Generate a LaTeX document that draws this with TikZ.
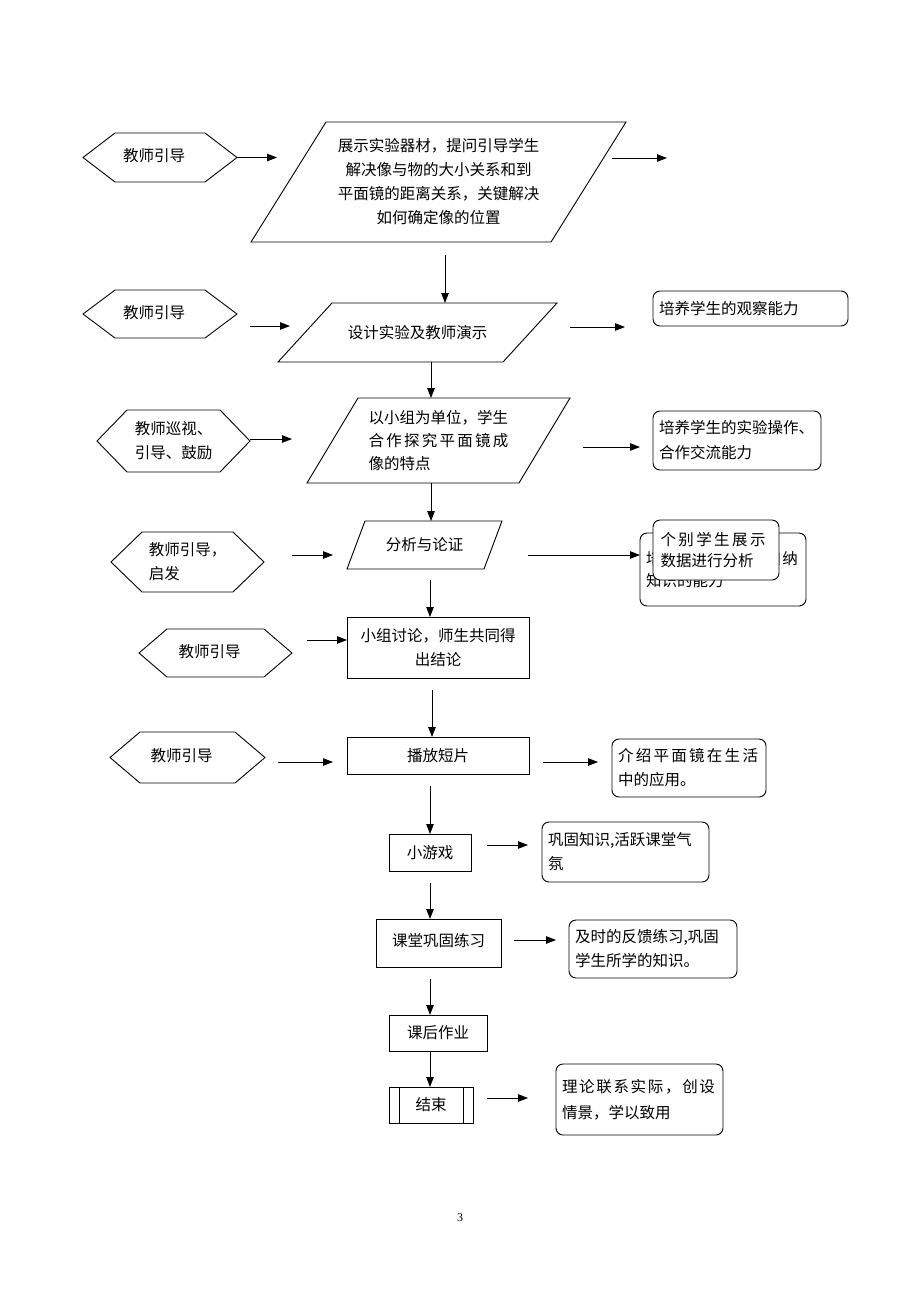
\documentclass[tikz,border=0pt]{standalone}
\usepackage{fontspec}
\newfontfamily\cjk{Noto Sans CJK SC}
\newfontfamily\pnum{Liberation Serif}
\usetikzlibrary{arrows.meta}
\newcommand\cjkfs{\cjk\fontsize{15.5}{24}\selectfont}
\newcommand\hexpath[2]{\draw[edge] (#1.west) -- ([xshift=#2pt]#1.north west) -- ([xshift=-#2pt]#1.north east) -- (#1.east) -- ([xshift=-#2pt]#1.south east) -- ([xshift=#2pt]#1.south west) -- cycle;}
\newcommand\parapath[2]{\draw[edge] (#1.south west) -- ([xshift=#2pt]#1.north west) -- (#1.north east) -- ([xshift=-#2pt]#1.south east) -- cycle;}
\newcommand\offtext[1]{\raisebox{5pt}{#1}\hspace{12pt}}
\begin{document}
\begin{tikzpicture}[x=1pt,y=-1pt,
  edge/.style={line width=0.9pt,line join=miter},
  arr/.style={line width=0.9pt,-{Triangle[length=10pt,width=7.5pt]}},
  base/.style={inner sep=0pt,outer sep=0pt,font=\cjkfs,text=black},
  shp/.style={base,align=center},
  box/.style={base,draw,line width=0.9pt,align=center},
  rbox/.style={base,draw,line width=0.9pt,rounded corners=7pt,inner xsep=6pt,align=left,fill=white}]
\fill[white] (0,0) rectangle (920,1302);
\useasboundingbox (0,0) rectangle (920,1302);

% ---- hexagons ----
\node[shp,minimum width=154pt,minimum height=49pt] (h1) at (160,157.5) {\offtext{教师引导}};
\hexpath{h1}{32}
\node[shp,minimum width=154pt,minimum height=48pt] (h2) at (160,314) {\offtext{教师引导}};
\hexpath{h2}{32}
\node[shp,minimum width=153pt,minimum height=62pt] (h3) at (173.5,441) {教师巡视、\\引导、鼓励};
\hexpath{h3}{30}
\node[shp,align=left,minimum width=153pt,minimum height=60pt] (h4) at (187.5,562) {教师引导，\\启发};
\hexpath{h4}{31}
\node[shp,minimum width=153pt,minimum height=48pt] (h5) at (215.5,653) {\offtext{教师引导}};
\hexpath{h5}{28}
\node[shp,minimum width=155pt,minimum height=51pt] (h6) at (187.5,757.5) {\offtext{教师引导}};
\hexpath{h6}{30}

% ---- parallelograms ----
\node[shp,minimum width=375pt,minimum height=120pt] (p1) at (438.5,182)
  {展示实验器材，提问引导学生\\解决像与物的大小关系和到\\平面镜的距离关系，关键解决\\如何确定像的位置};
\parapath{p1}{75}
\node[shp,minimum width=279pt,minimum height=59pt] (p2) at (417.5,332.5) {设计实验及教师演示};
\parapath{p2}{54}
\node[shp,align=left,minimum width=263pt,minimum height=85pt,font=\cjk\fontsize{15.5}{23}\selectfont] (p3) at (438.5,440.5)
  {以小组为单位，学生\\\makebox[140pt][s]{合\hfill 作\hfill 探\hfill 究\hfill 平\hfill 面\hfill 镜\hfill 成}\\像的特点};
\parapath{p3}{51}
\node[shp,minimum width=155pt,minimum height=48pt] (p4) at (424.5,545) {分析与论证};
\parapath{p4}{18}

% ---- rectangles ----
\node[box,minimum width=182pt,minimum height=61pt] (r5) at (438,647.5) {小组讨论，师生共同得\\出结论};
\node[box,minimum width=182pt,minimum height=37pt] (r6) at (438,755.5) {播放短片};
\node[box,minimum width=82pt,minimum height=37pt] (r7) at (430,852.5) {小游戏};
\node[box,minimum width=125pt,minimum height=48pt] (r8) at (438.5,943) {\raisebox{6pt}{课堂巩固练习}};
\node[box,minimum width=98pt,minimum height=36pt] (r9) at (438,1033) {课后作业};
\node[box,minimum width=84pt,minimum height=36pt] (r10) at (431,1105) {结束};
\draw[edge] ([xshift=10pt]r10.north west) -- ([xshift=10pt]r10.south west);
\draw[edge] ([xshift=-10pt]r10.north east) -- ([xshift=-10pt]r10.south east);

% ---- rounded boxes ----
\node[rbox,text width=183pt,minimum height=35pt] (rb2) at (750.5,308.5) {培养学生的观察能力};
\node[rbox,text width=156pt,minimum height=59pt,font=\cjk\fontsize{15.5}{25}\selectfont] (rb3) at (737,440.5) {培养学生的实验操作、\\合作交流能力};
\node[rbox,text width=154pt,minimum height=73pt,font=\cjk\fontsize{15.5}{22}\selectfont] (rb4b) at (723,569.5)
  {\makebox[152pt][s]{培\hfill 养\hfill 学\hfill 生\hfill 的\hfill 分\hfill 析\hfill 归\hfill 纳}\\知识的能力};
\node[rbox,text width=111pt,inner xsep=7.5pt,minimum height=60pt,font=\cjk\fontsize{15.5}{21}\selectfont] (rb4f) at (716,550)
  {\makebox[105pt][s]{个\hfill 别\hfill 学\hfill 生\hfill 展\hfill 示}\\数据进行分析};
\node[rbox,text width=142pt,minimum height=58pt] (rb6) at (689,768)
  {\makebox[140pt][s]{介\hfill 绍\hfill 平\hfill 面\hfill 镜\hfill 在\hfill 生\hfill 活}\\中的应用。};
\node[rbox,text width=155pt,minimum height=60pt] (rb7) at (625.5,852) {巩固知识,活跃课堂气\\氛};
\node[rbox,text width=156pt,minimum height=58pt] (rb8) at (653,949) {及时的反馈练习,巩固\\学生所学的知识。};
\node[rbox,text width=155pt,minimum height=71pt,font=\cjk\fontsize{15.5}{26}\selectfont] (rb10) at (639.5,1099.5)
  {\makebox[153pt][s]{理\hfill 论\hfill 联\hfill 系\hfill 实\hfill 际\hfill ，\hfill 创\hfill 设}\\情景，学以致用};

% ---- connectors ----
\coordinate (p1out) at ([shift={(228.5,-24)}]p1.center);
\draw[arr] (h1.east) -- ([shift={(40,0)}]h1.east);
\draw[arr] ([shift={(173.5,-24)}]p1.center) -- (p1out);
\draw[arr] ([shift={(6.5,13)}]p1.south) -- ([shift={(27.5,0)}]p2.north);
\draw[arr] ([shift={(13,12)}]h2.east) -- ([shift={(12,-6.5)}]p2.west);
\draw[arr] ([shift={(13,-5.5)}]p2.east) -- ([shift={(-28,18.5)}]rb2.west);
\draw[arr] ([shift={(13.5,0)}]p2.south) -- ([shift={(-7.5,0)}]p3.north);
\draw[arr] ([shift={(0,-2)}]h3.east) -- ([shift={(-15,-1.5)}]p3.west);
\draw[arr] ([shift={(13,6.5)}]p3.east) -- ([shift={(-13,6.5)}]rb3.west);
\draw[arr] ([shift={(-7.5,0)}]p3.south) -- ([shift={(6.5,0)}]p4.north);
\draw[arr] ([shift={(28,-7)}]h4.east) -- ([shift={(-14,10)}]p4.west);
\draw[arr] ([shift={(26,10)}]p4.east) -- ([shift={(0,-14.5)}]rb4b.west);
\draw[arr] ([shift={(5.5,11)}]p4.south) -- ([shift={(-8,0)}]r5.north);
\draw[arr] ([shift={(15,-13)}]h5.east) -- ([shift={(0,-7.5)}]r5.west);
\draw[arr] ([shift={(-6,12)}]r5.south) -- ([shift={(-6,0)}]r6.north);
\draw[arr] ([shift={(13,4.5)}]h6.east) -- ([shift={(-14,6.5)}]r6.west);
\draw[arr] ([shift={(14,6.5)}]r6.east) -- ([shift={(-14,-6)}]rb6.west);
\draw[arr] ([shift={(-8,12)}]r6.south) -- (r7.north);
\draw[arr] ([shift={(16,-7.5)}]r7.east) -- ([shift={(-14,-7)}]rb7.west);
\draw[arr] ([shift={(0,12)}]r7.south) -- ([shift={(-8.5,0)}]r8.north);
\draw[arr] ([shift={(13,-3)}]r8.east) -- ([shift={(-13,-9)}]rb8.west);
\draw[arr] ([shift={(-8.5,12)}]r8.south) -- ([shift={(-8,0)}]r9.north);
\draw[arr] ([shift={(-8,0)}]r9.south) -- ([shift={(-1,0)}]r10.north);
\draw[arr] ([shift={(14,-7)}]r10.east) -- ([shift={(-28,-1.5)}]rb10.west);

\node[font=\pnum\fontsize{12}{14}\selectfont,inner sep=0pt] (pg) at (460,1218) {3};
\end{tikzpicture}
\end{document}
